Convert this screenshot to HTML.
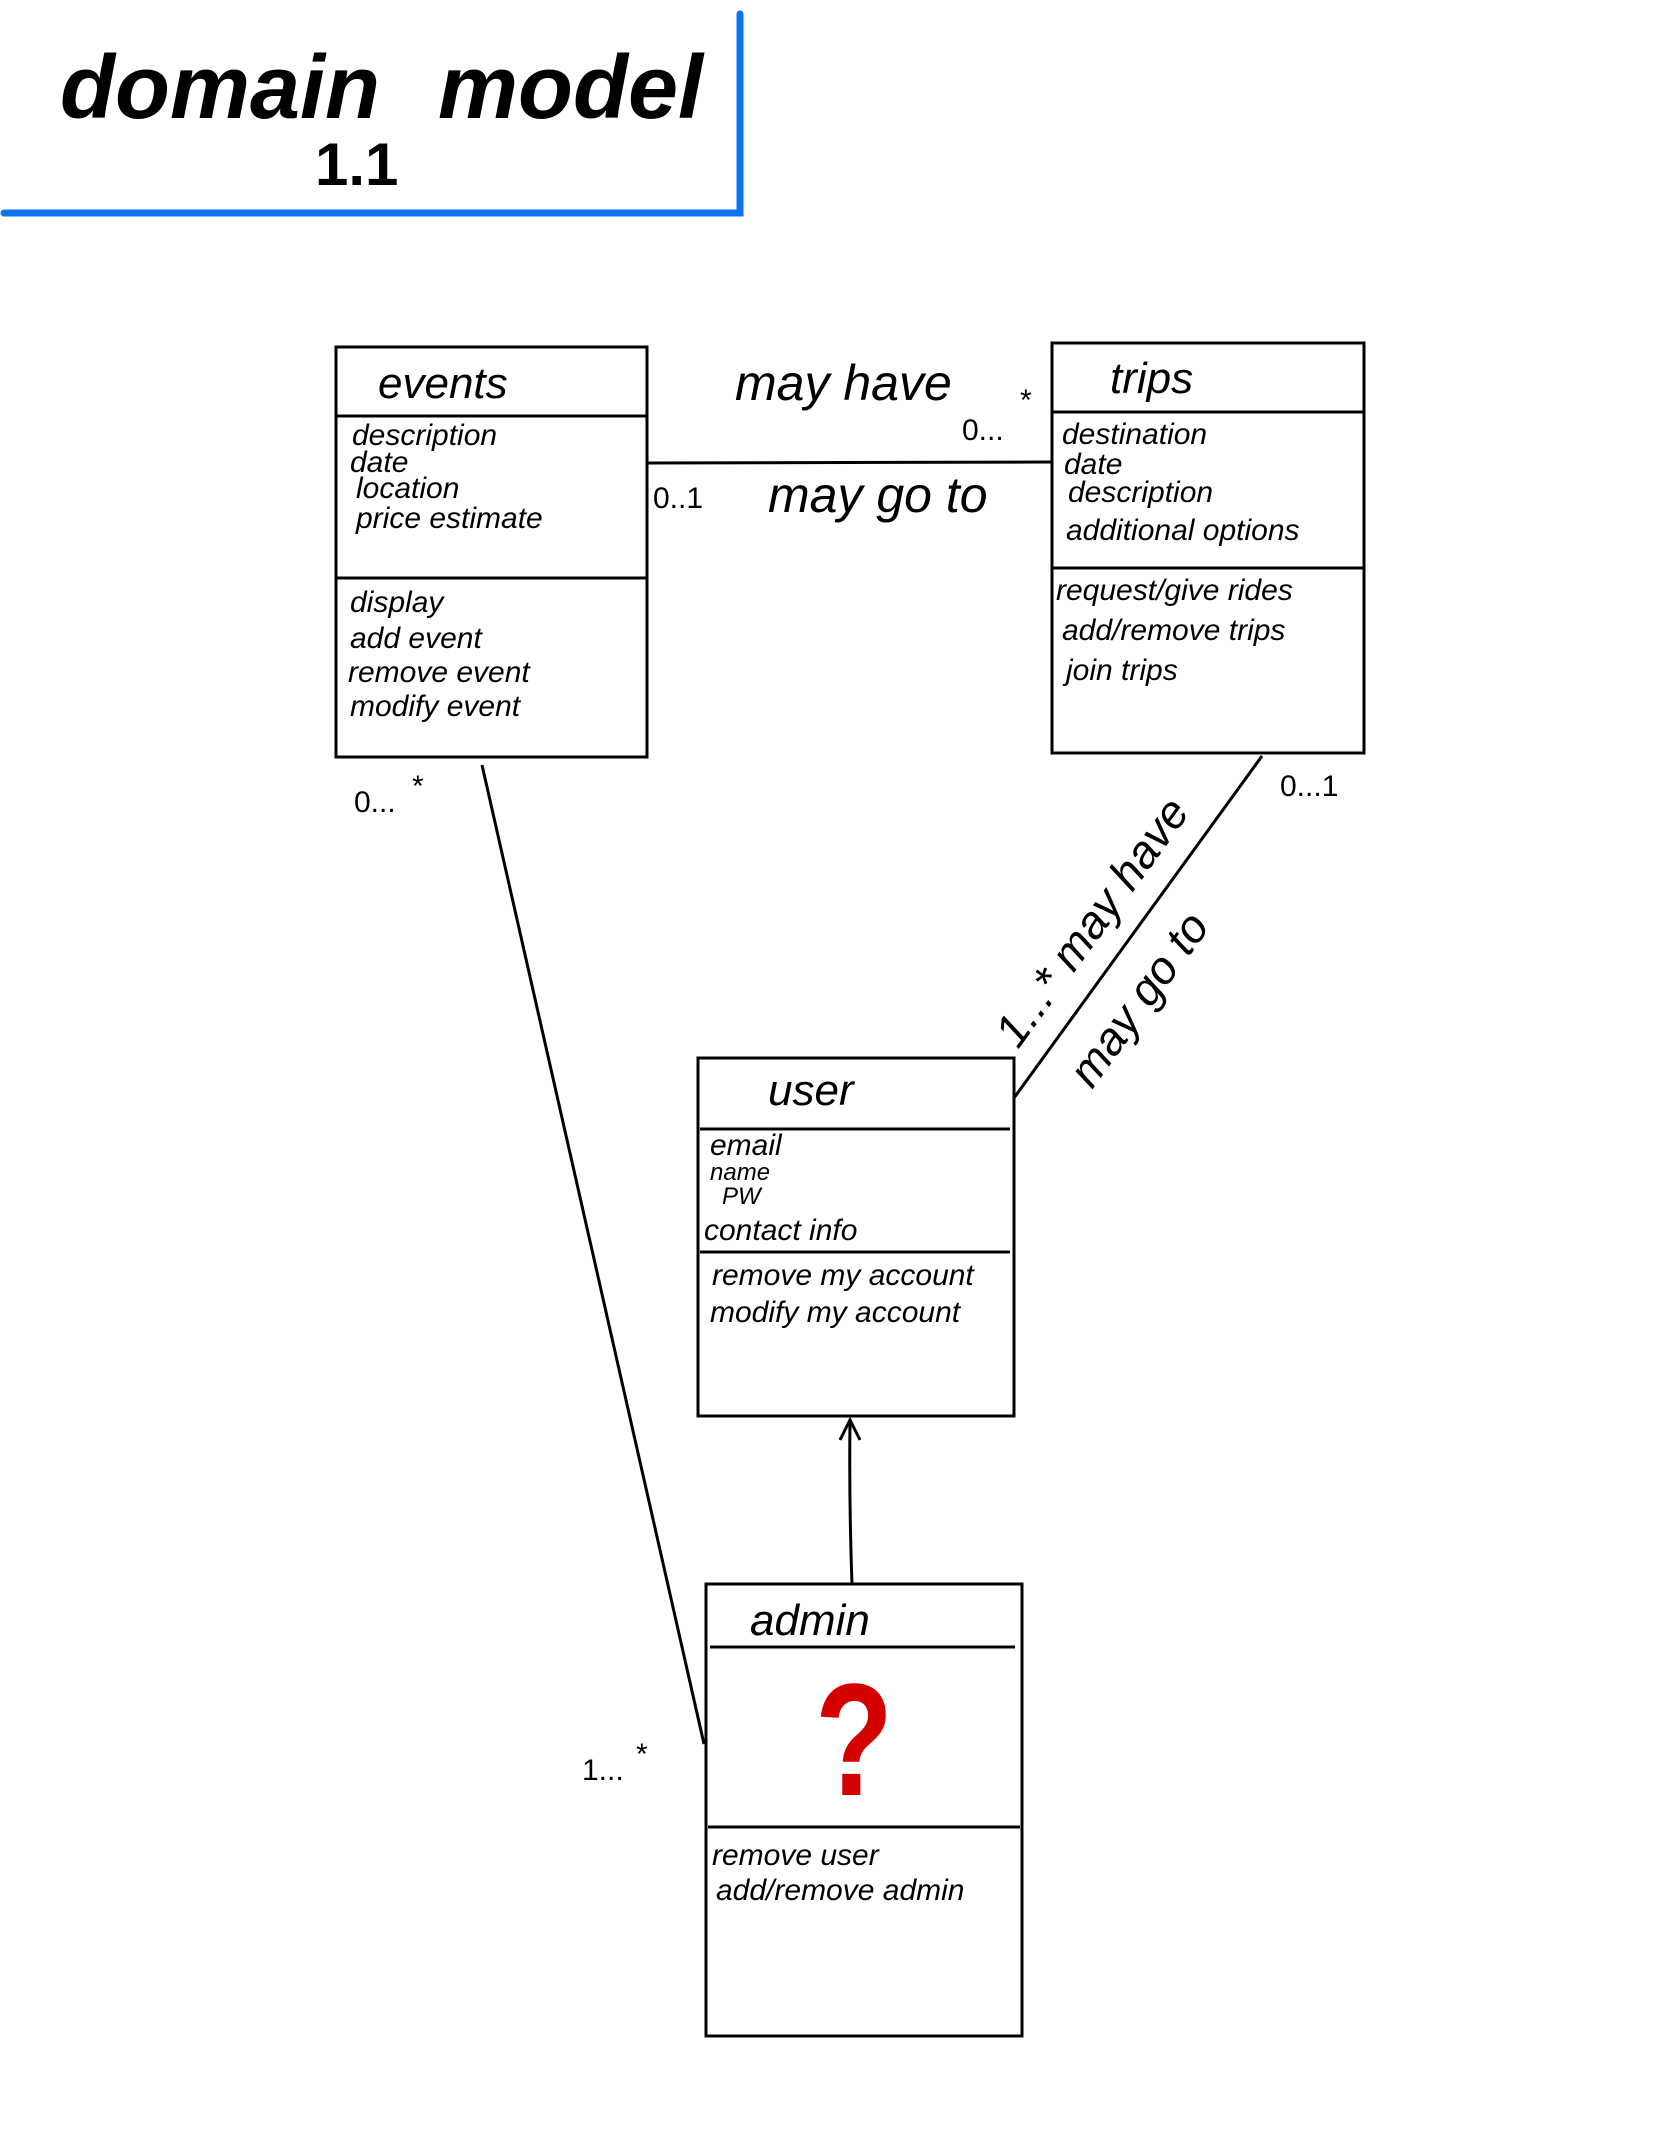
<!DOCTYPE html>
<html><head><meta charset="utf-8"><style>
html,body{margin:0;padding:0;background:#fff;}
svg{display:block;}
text{font-family:"Liberation Sans",sans-serif;fill:#000;}
</style></head><body>
<svg width="1668" height="2154" viewBox="0 0 1668 2154" xmlns="http://www.w3.org/2000/svg">
<rect width="1668" height="2154" fill="#fff"/>
<path d="M740 14 L740 213 L4 213" fill="none" stroke="#0a74f0" stroke-width="7" stroke-linecap="round"/>
<text x="60" y="118" font-size="90" font-weight="bold" style="font-style:italic">domain</text>
<text x="438" y="118" font-size="90" font-weight="bold" style="font-style:italic">model</text>
<text x="315" y="185" font-size="60" font-weight="bold">1.1</text>

<g fill="none" stroke="#000" stroke-width="3">
<rect x="336" y="347" width="311" height="410"/>
<line x1="336" y1="416" x2="647" y2="416"/>
<line x1="336" y1="578" x2="647" y2="578"/>
<rect x="1052" y="343" width="312" height="410"/>
<line x1="1052" y1="412" x2="1364" y2="412"/>
<line x1="1052" y1="568" x2="1364" y2="568"/>
<rect x="698" y="1058" width="316" height="358"/>
<line x1="700" y1="1129" x2="1010" y2="1129"/>
<line x1="700" y1="1252" x2="1010" y2="1252"/>
<rect x="706" y="1584" width="316" height="452"/>
<line x1="710" y1="1647" x2="1015" y2="1647"/>
<line x1="708" y1="1827" x2="1020" y2="1827"/>
<line x1="647" y1="463" x2="1052" y2="462"/>
<line x1="482" y1="765" x2="704" y2="1744"/>
<line x1="1262" y1="756" x2="1014" y2="1098"/>
<path d="M852 1585 Q849 1500 850 1422"/>
<path d="M840 1440 L850 1420 L860 1440"/>
</g>

<g font-size="44" style="font-style:italic">
<text x="378" y="398">events</text>
<text x="1110" y="393">trips</text>
<text x="768" y="1105">user</text>
<text x="750" y="1635">admin</text>
</g>
<g font-size="30" style="font-style:italic">
<text x="352" y="445">description</text>
<text x="350" y="472">date</text>
<text x="356" y="498">location</text>
<text x="356" y="528">price estimate</text>
<text x="350" y="612">display</text>
<text x="350" y="648">add event</text>
<text x="348" y="682">remove event</text>
<text x="350" y="716">modify event</text>
<text x="1062" y="444">destination</text>
<text x="1064" y="474">date</text>
<text x="1068" y="502">description</text>
<text x="1066" y="540">additional options</text>
<text x="1056" y="600">request/give rides</text>
<text x="1062" y="640">add/remove trips</text>
<text x="1066" y="680">join trips</text>
<text x="710" y="1155">email</text>
<text x="710" y="1180" font-size="24">name</text>
<text x="722" y="1204" font-size="24">PW</text>
<text x="704" y="1240">contact info</text>
<text x="712" y="1285">remove my account</text>
<text x="710" y="1322">modify my account</text>
<text x="712" y="1865">remove  user</text>
<text x="716" y="1900">add/remove admin</text>
</g>
<text x="854" y="1795" font-size="160" font-weight="bold" style="fill:#d40000" text-anchor="middle" transform="translate(854 0) scale(0.8 1) translate(-854 0)">?</text>

<g font-size="50" style="font-style:italic">
<text x="735" y="400">may have</text>
<text x="768" y="512">may go to</text>
</g>
<g font-size="30">
<text x="962" y="440">0...</text>
<text x="1020" y="410">*</text>
<text x="653" y="508">0..1</text>
<text x="354" y="812">0...</text>
<text x="412" y="796">*</text>
<text x="1280" y="796">0...1</text>
<text x="582" y="1780">1...</text>
<text x="636" y="1764">*</text>
</g>
<g font-size="46" style="font-style:italic">
<text transform="translate(1018,1050) rotate(-54)">1...* may have</text>
<text transform="translate(1092,1090) rotate(-54)">may go to</text>
</g>
</svg>
</body></html>
